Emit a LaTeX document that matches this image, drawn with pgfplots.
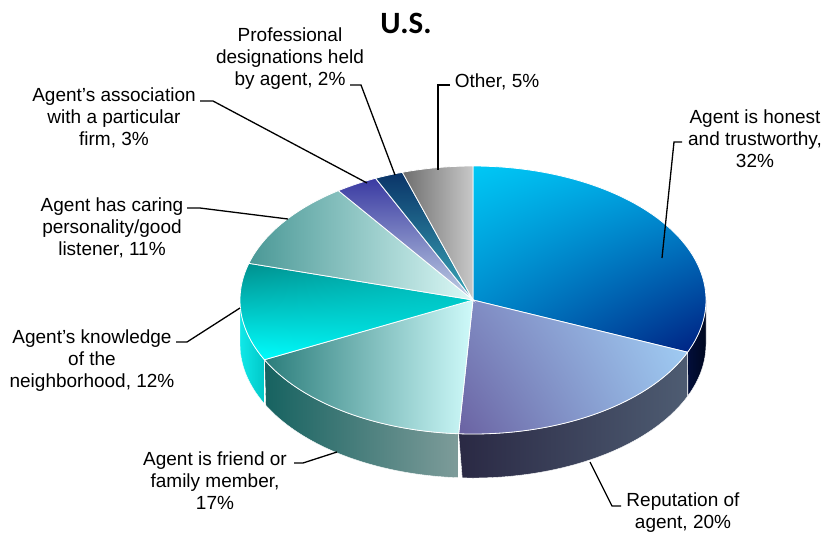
\documentclass[border=0pt]{standalone}
\usepackage{pgfplots}
\pgfplotsset{compat=1.18}
\usetikzlibrary{shadings}
\usepackage{fontspec}
\setmainfont{Liberation Sans}
\newfontfamily\titlefont{Carlito}

\definecolor{honUL}{HTML}{00C8F5}
\definecolor{honUR}{HTML}{00A2E2}
\definecolor{honLL}{HTML}{0078C0}
\definecolor{honLR}{HTML}{001E80}
\definecolor{repUL}{HTML}{7E88C0}
\definecolor{repUR}{HTML}{A4D2F8}
\definecolor{repLL}{HTML}{6A62A2}
\definecolor{repLR}{HTML}{98C0EA}
\definecolor{friL}{HTML}{2B7D7B}
\definecolor{friR}{HTML}{CFFAFA}
\definecolor{knoUL}{HTML}{008F8D}
\definecolor{knoLL}{HTML}{00FFFF}
\definecolor{knoUR}{HTML}{00B8B8}
\definecolor{knoLR}{HTML}{00E6E6}
\definecolor{carL}{HTML}{4A9896}
\definecolor{carR}{HTML}{DDF9F7}
\definecolor{assT}{HTML}{3A3AA2}
\definecolor{assB}{HTML}{C0D0E4}
\definecolor{proT}{HTML}{0A3468}
\definecolor{proB}{HTML}{3AA8B8}
\definecolor{othL}{HTML}{6E6E6E}
\definecolor{othR}{HTML}{C8C8C8}
\definecolor{shonL}{HTML}{020E3A}
\definecolor{shonR}{HTML}{000820}
\definecolor{srepL}{HTML}{2A2944}
\definecolor{srepR}{HTML}{4E5C72}
\definecolor{sfriL}{HTML}{166260}
\definecolor{sfriR}{HTML}{7E9C9A}
\definecolor{sknoL}{HTML}{10E8E8}
\definecolor{sknoR}{HTML}{00C8C8}

% geometry of the pie (pixels)
\def\cx{473}\def\cy{300}\def\ra{233}\def\rb{134}\def\dep{44}
% data (percent)
\def\vA{32}% Agent is honest and trustworthy
\def\vB{20}% Reputation of agent
\def\vC{17}% Agent is friend or family member
\def\vD{12}% Agent's knowledge of the neighborhood
\def\vE{11}% Agent has caring personality/good listener
\def\vF{3}%  Agent's association with a particular firm
\def\vG{2}%  Professional designations held by agent
\def\vH{5}%  Other
\pgfmathsetmacro\tot{\vA+\vB+\vC+\vD+\vE+\vF+\vG+\vH}
\pgfmathsetmacro\angA{0}
\pgfmathsetmacro\angB{\angA+360*\vA/\tot}
\pgfmathsetmacro\angC{\angB+360*\vB/\tot}
\pgfmathsetmacro\angD{\angC+360*\vC/\tot}
\pgfmathsetmacro\angE{\angD+360*\vD/\tot}
\pgfmathsetmacro\angF{\angE+360*\vE/\tot}
\pgfmathsetmacro\angG{\angF+360*\vF/\tot}
\pgfmathsetmacro\angH{\angG+360*\vG/\tot}
\pgfmathsetmacro\angI{\angH+360*\vH/\tot}

\newcommand\side[3]{\addplot[draw=white, line width=0.4pt, #3, domain=0:2, samples=161, variable=\s]
 ({\cx+\ra*sin(Tp(\s,#1,#2))},{\cy-\rb*cos(Tp(\s,#1,#2))+\dep*(\s>1)}) -- cycle;}
\newcommand\slice[3]{\addplot[draw=white, line width=0.8pt, #3, domain=#1:#2, samples=90, variable=\t]
 ({\cx+\ra*sin(\t)},{\cy-\rb*cos(\t)}) -- (axis cs:\cx,\cy) -- cycle;}

\tikzset{lbl/.style={anchor=base, align=center, font=\fontsize{19}{22}\selectfont, inner sep=0pt},
 lead/.style={line width=1.3pt, black}}

\begin{document}
\begin{tikzpicture}
\useasboundingbox (0,0) rectangle (823pt,533pt);
\begin{axis}[
  at={(0,0)}, anchor=south west,
  width=823pt, height=533pt, scale only axis,
  xmin=0, xmax=823, ymin=0, ymax=533, y dir=reverse,
  hide axis, clip=false,
  declare function={Tp(\s,\m,\n)=(\s<=1)*(\m+\s*(\n-\m))+(\s>1)*(\n-(\s-1)*(\n-\m));}
]
% sides (front half only)
\side{90}{\angB}{left color=shonL, right color=shonR}
\side{\angB}{\angC}{left color=srepL, right color=srepR}
\side{\angC}{\angD}{left color=sfriL, right color=sfriR}
\side{\angD}{270}{left color=sknoL, right color=sknoR}
% top faces
\slice{\angA}{\angB}{upper left=honUL, upper right=honUR, lower left=honLL, lower right=honLR}
\slice{\angB}{\angC}{upper left=repUL, upper right=repUR, lower left=repLL, lower right=repLR}
\slice{\angC}{\angD}{left color=friL, right color=friR}
\slice{\angD}{\angE}{upper left=knoUL, upper right=knoUR, lower left=knoLL, lower right=knoLR}
\slice{\angE}{\angF}{left color=carL, right color=carR}
\slice{\angF}{\angG}{top color=assT, bottom color=assB}
\slice{\angG}{\angH}{top color=proT, bottom color=proB}
\slice{\angH}{\angI}{left color=othL, right color=othR}

% title
\node[anchor=base, inner sep=0pt, font=\titlefont\bfseries\fontsize{31}{36}\selectfont] at (axis cs:406,33) {U.S.};

% labels (anchor = baseline of the last line)
\node[lbl] at (axis cs:755,167) {Agent is honest\\and trustworthy,\\32\%};
\node[lbl] at (axis cs:683,528) {Reputation of\\agent, 20\%};
\node[lbl] at (axis cs:215,509) {Agent is friend or\\family member,\\17\%};
\node[lbl] at (axis cs:92,387) {Agent’s knowledge\\of the\\neighborhood, 12\%};
\node[lbl] at (axis cs:112,255) {Agent has caring\\personality/good\\listener, 11\%};
\node[lbl] at (axis cs:114,145) {Agent’s association\\with a particular\\firm, 3\%};
\node[lbl] at (axis cs:290,85) {Professional\\designations held\\by agent, 2\%};
\node[lbl] at (axis cs:497,87) {Other, 5\%};

% leader lines
\draw[lead] (axis cs:682,142) -- (axis cs:674,142) -- (axis cs:662,258);
\draw[lead] (axis cs:621,506) -- (axis cs:612,506) -- (axis cs:590,462);
\draw[lead] (axis cs:294,463) -- (axis cs:303,463) -- (axis cs:337,452);
\draw[lead] (axis cs:176,342) -- (axis cs:187,342) -- (axis cs:240,308);
\draw[lead] (axis cs:187,208) -- (axis cs:200,208) -- (axis cs:288,219);
\draw[lead] (axis cs:200,101) -- (axis cs:213,101) -- (axis cs:367,183);
\draw[lead] (axis cs:350,85) -- (axis cs:361,85) -- (axis cs:395,175);
\draw[lead] (axis cs:450,85) -- (axis cs:438,85) -- (axis cs:438,170);
\end{axis}
\end{tikzpicture}
\end{document}
